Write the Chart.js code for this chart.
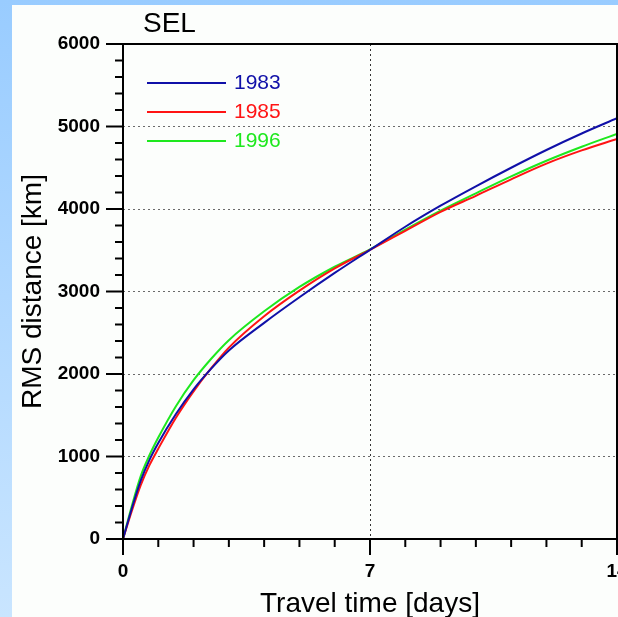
<!DOCTYPE html>
<html lang="en">
  <head>
    <meta charset="UTF-8" />
    <title>SEL RMS distance</title>
    <script src="https://cdn.jsdelivr.net/npm/chart.js"></script>
    <style>
      html, body { margin: 0; padding: 0; }
      body {
        width: 618px;
        height: 617px;
        overflow: hidden;
        position: relative;
        background: linear-gradient(to bottom, #99ccff, #c9e5ff);
      }
      #panel {
        position: absolute;
        left: 12px;
        top: 5px;
        width: 606px;
        height: 612px;
        background: #fcfefc;
      }
    </style>
  </head>
  <body>
    <div id="panel"><canvas id="chartCanvas" width="606" height="612"></canvas></div>

    <script>
      // travel time [days]
      let days = [0, 0.25, 0.5, 0.75, 1, 1.5, 2, 2.5, 3, 4, 5, 6, 7, 8, 9, 10, 11, 12, 13, 14];
      // RMS distance [km]
      let rms1983 = [0, 370, 705, 960, 1165, 1515, 1815, 2065, 2285, 2620, 2930, 3225, 3505, 3785, 4040, 4275, 4500, 4715, 4915, 5100];
      let rms1985 = [0, 340, 650, 895, 1095, 1470, 1790, 2070, 2320, 2700, 3010, 3280, 3505, 3735, 3965, 4160, 4360, 4550, 4710, 4848];
      let rms1996 = [0, 400, 760, 1015, 1230, 1610, 1925, 2185, 2410, 2760, 3055, 3300, 3510, 3750, 3980, 4190, 4395, 4585, 4755, 4910];
      let xLabels = [0, 7, 14];
      let chartTitle = "SEL";

      function pts(values) {
        return days.map((d, i) => ({ x: d, y: values[i] }));
      }

      function line(label, values, color) {
        return {
          label: label,
          data: pts(values),
          borderColor: color,
          borderWidth: 2,
          pointRadius: 0,
          cubicInterpolationMode: "monotone",
          fill: false,
        };
      }

      // frame, tick marks, title and legend
      const extras = {
        id: "extras",
        afterDraw(chart) {
          const ctx = chart.ctx;
          const area = chart.chartArea;
          const xs = chart.scales.x;
          const ys = chart.scales.y;
          ctx.save();
          ctx.strokeStyle = "#000";
          ctx.lineWidth = 2;
          ctx.strokeRect(area.left, area.top, area.right - area.left, area.bottom - area.top);

          ys.ticks.forEach((t) => {
            const p = ys.getPixelForValue(t.value);
            const len = t.value % 1000 === 0 ? 17 : 8;
            ctx.beginPath();
            ctx.moveTo(area.left - len, p);
            ctx.lineTo(area.left, p);
            ctx.stroke();
          });
          xs.ticks.forEach((t) => {
            const p = xs.getPixelForValue(t.value);
            const len = xLabels.includes(t.value) ? 16 : 8;
            ctx.beginPath();
            ctx.moveTo(p, area.bottom);
            ctx.lineTo(p, area.bottom + len);
            ctx.stroke();
          });

          ctx.fillStyle = "#000";
          ctx.font = "28px 'Liberation Sans', Arial, sans-serif";
          ctx.textBaseline = "alphabetic";
          ctx.textAlign = "left";
          ctx.fillText(chartTitle, 131, 27);

          ctx.font = "21px 'Liberation Sans', Arial, sans-serif";
          ctx.textBaseline = "middle";
          chart.data.datasets.forEach((ds, i) => {
            const y = 78 + i * 29;
            ctx.strokeStyle = ds.borderColor;
            ctx.lineWidth = 2;
            ctx.beginPath();
            ctx.moveTo(135, y);
            ctx.lineTo(214, y);
            ctx.stroke();
            ctx.fillStyle = ds.borderColor;
            ctx.fillText(ds.label, 222, y);
          });
          ctx.restore();
        },
      };

      let ctx = document.getElementById("chartCanvas").getContext("2d");
      new Chart(ctx, {
        type: "line",
        data: {
          datasets: [
            line("1983", rms1983, "#1010a8"),
            line("1985", rms1985, "#ff1414"),
            line("1996", rms1996, "#1ee81e"),
          ],
        },
        options: {
          responsive: false,
          animation: false,
          devicePixelRatio: 1,
          layout: { padding: { top: 39, right: 1, left: 0, bottom: 0 } },
          plugins: { legend: { display: false }, tooltip: { enabled: false } },
          scales: {
            x: {
              type: "linear",
              min: 0,
              max: 14,
              afterFit(scale) {
                scale.height = 78;
                scale.paddingLeft = 0;
                scale.paddingRight = 0;
              },
              ticks: {
                stepSize: 1,
                autoSkip: false,
                maxRotation: 0,
                padding: 21,
                color: "#000",
                font: { family: "'Liberation Sans', Arial, sans-serif", size: 19, weight: "bold" },
                callback: (v) => (xLabels.includes(v) ? String(v) : ""),
              },
              grid: {
                drawTicks: false,
                color: (c) => (c.tick && c.tick.value === 7 ? "#333" : "transparent"),
                lineWidth: 1,
              },
              border: { display: false, dash: [2, 3] },
              title: {
                display: true,
                text: "Travel time [days]",
                color: "#000",
                padding: { top: 0, bottom: -4 },
                font: { family: "'Liberation Sans', Arial, sans-serif", size: 28 },
              },
            },
            y: {
              min: 0,
              max: 6000,
              afterFit(scale) {
                scale.width = 111;
                scale.paddingTop = 0;
                scale.paddingBottom = 0;
              },
              ticks: {
                stepSize: 200,
                autoSkip: false,
                padding: 23,
                color: "#000",
                font: { family: "'Liberation Sans', Arial, sans-serif", size: 19, weight: "bold" },
                callback: (v) => (v % 1000 === 0 ? String(v) : ""),
              },
              grid: {
                drawTicks: false,
                color: (c) =>
                  c.tick && c.tick.value % 1000 === 0 && c.tick.value > 0 && c.tick.value < 6000
                    ? "#6a6a6a"
                    : "transparent",
                lineWidth: 1,
              },
              border: { display: false, dash: [2, 3] },
              title: {
                display: true,
                text: "RMS distance [km]",
                color: "#000",
                padding: { top: 4, bottom: 0 },
                font: { family: "'Liberation Sans', Arial, sans-serif", size: 28 },
              },
            },
          },
        },
        plugins: [extras],
      });
    </script>
  </body>
</html>
